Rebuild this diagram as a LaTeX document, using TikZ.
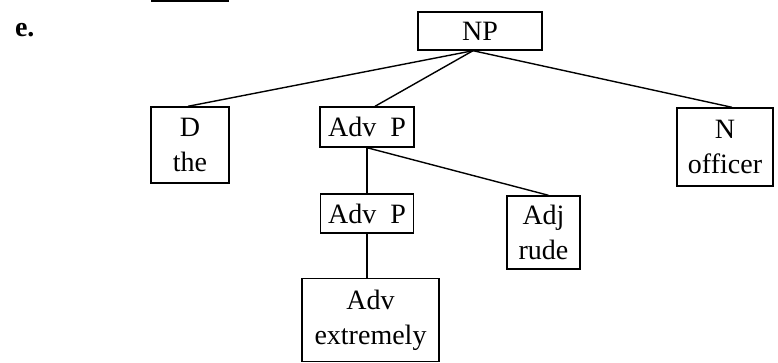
\documentclass[tikz,border=0pt]{standalone}
\usepackage{fontspec}
\setmainfont{Liberation Serif}
\usetikzlibrary{positioning}

\begin{document}
\begin{tikzpicture}[
    x=1pt, y=-1pt,          % pixel grid, y downwards
    line width=1.4pt,
    font=\fontsize{28}{35}\selectfont,
    cat/.style={rectangle, draw, align=center, inner sep=0pt}]
    \useasboundingbox (0,0) rectangle (778,362);

    % Label and cut-off box edge
    \node[font=\fontsize{28}{35}\selectfont\bfseries, anchor=west] (lab) at (11,30) {e.};
    \draw (151,1) -- (229,1);

    % Nodes
    \node[cat, minimum width=124pt, minimum height=38pt] (NP) at (480,31) {NP};
    \node[cat, minimum width=78pt, minimum height=76pt] (D) at (190,145) {D\\the};
    \node[cat, minimum width=94pt, minimum height=40pt] (AdvP) at (367,127) {Adv~~P};
    \node[cat, minimum width=96pt, minimum height=78pt] (N) at (725,147) {N\\officer};
    \node[cat, minimum width=93pt, minimum height=39pt] (AdvPb) at (367,213.5) {Adv~~P};
    \node[cat, minimum width=73pt, minimum height=73pt] (Adj) at (543.5,232.5) {Adj\\rude};
    \node[cat, minimum width=137pt, minimum height=83pt] (Adv) at (370.5,320) {Adv\\extremely};
    \coordinate (top) at ([xshift=-7pt]NP.south);

    % Branches
    \draw (top) -- ([xshift=-2pt]D.north);
    \draw (top) -- ([xshift=8pt]AdvP.north);
    \draw (top) -- ([xshift=7pt]N.north);
    \draw (AdvP.south) -- (AdvPb.north);
    \draw (AdvP.south) -- ([xshift=5pt]Adj.north);
    \draw (AdvPb.south) -- (AdvPb.south |- Adv.north);
\end{tikzpicture}
\end{document}
